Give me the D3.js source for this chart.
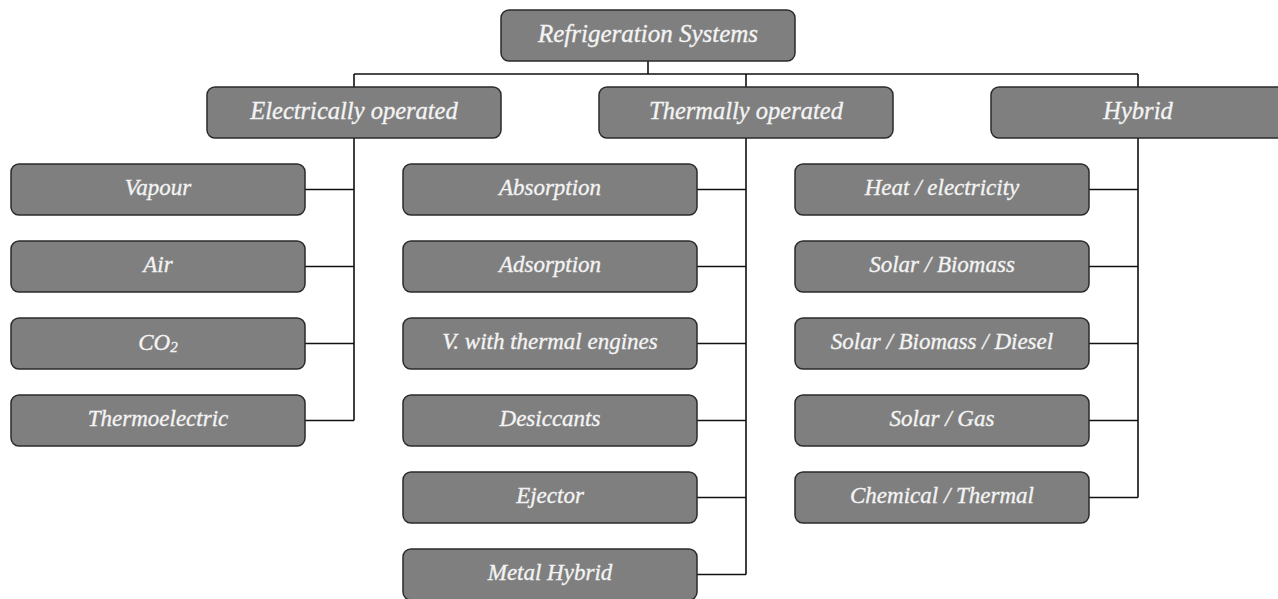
<!DOCTYPE html>
<html>
<head>
<meta charset="utf-8">
<script src="https://cdn.jsdelivr.net/npm/d3@7"></script>
<style>
  html, body { margin: 0; padding: 0; background: #ffffff; }
  svg { display: block; }
</style>
</head>
<body>
<svg id="chart" width="1278" height="599"></svg>
<script>
// ---- data ----
const rootLabel = "Refrigeration Systems";
const groups = ["Electrically operated", "Thermally operated", "Hybrid"];
const electrical = ["Vapour", "Air", "CO\u2082", "Thermoelectric"];
const thermal = ["Absorption", "Adsorption", "V. with thermal engines", "Desiccants", "Ejector", "Metal Hybrid"];
const hybrid = ["Heat / electricity", "Solar / Biomass", "Solar / Biomass / Diesel", "Solar / Gas", "Chemical / Thermal"];
const groupChildren = [electrical, thermal, hybrid];

// ---- tree ----
const treeData = {
  name: rootLabel,
  children: groups.map((g, i) => ({ name: g, children: groupChildren[i].map(c => ({ name: c })) }))
};
const root = d3.hierarchy(treeData);

// layout in grid units: column unit = half box width + gap, row unit = row pitch
const x = d3.scaleLinear().domain([0, 1]).range([11, 207]);   // column units
const y = d3.scaleLinear().domain([0, 1]).range([10, 87]);    // row units
const boxW = x(1.5) - x(0);
const boxH = 51;

root.each(d => {
  if (d.depth === 0) { d.col = 2.5; d.row = 0; }
  else if (d.depth === 1) { d.col = 1 + 2 * d.parent.children.indexOf(d); d.row = 1; }
  else { d.col = d.parent.col - 1; d.row = 2 + d.parent.children.indexOf(d); }
  d.x0 = x(d.col); d.y0 = y(d.row);
  d.cx = d.x0 + boxW / 2; d.cy = d.y0 + boxH / 2;
});

const svg = d3.select("#chart");
const lines = svg.append("g").attr("fill", "none").attr("stroke", "#111").attr("stroke-width", 1.6);

// root -> groups
const elbowY = (root.y0 + boxH + root.children[0].y0) / 2;
const path = d3.path();
path.moveTo(root.cx, root.y0 + boxH); path.lineTo(root.cx, elbowY);
path.moveTo(root.children[0].cx, elbowY); path.lineTo(root.children[root.children.length - 1].cx, elbowY);
root.children.forEach(g => { path.moveTo(g.cx, elbowY); path.lineTo(g.cx, g.y0); });
// groups -> leaves
root.children.forEach(g => {
  const last = g.children[g.children.length - 1];
  path.moveTo(g.cx, g.y0 + boxH); path.lineTo(g.cx, last.cy);
  g.children.forEach(c => { path.moveTo(c.x0 + boxW, c.cy); path.lineTo(g.cx, c.cy); });
});
lines.append("path").attr("d", path.toString());

// boxes
const nodes = svg.append("g").selectAll("g").data(root.descendants()).join("g")
  .attr("transform", d => `translate(${d.x0},${d.y0})`);
nodes.append("rect")
  .attr("width", boxW).attr("height", boxH)
  .attr("rx", 8).attr("ry", 8)
  .attr("fill", "#7f7f7f")
  .attr("stroke", "#2b2b2b").attr("stroke-width", 1.5);

nodes.append("text")
  .attr("x", boxW / 2).attr("y", d => boxH / 2 - 2)
  .attr("text-anchor", "middle").attr("dominant-baseline", "central")
  .attr("font-family", "'Liberation Serif', 'DejaVu Serif', serif")
  .attr("font-style", "italic")
  .attr("font-size", d => d.depth === 0 ? 25 : d.depth === 1 ? 24.5 : 23)
  .attr("fill", "#f5f5f5")
  .attr("stroke", "#f0f0f0").attr("stroke-width", 0.35)
  .each(function(d) {
    const t = d3.select(this);
    if (d.data.name.includes("\u2082")) {
      t.append("tspan").text("CO");
      t.append("tspan").text("2").attr("font-size", 15).attr("dy", 5);
    } else {
      t.text(d.data.name);
    }
  });
</script>
</body>
</html>
